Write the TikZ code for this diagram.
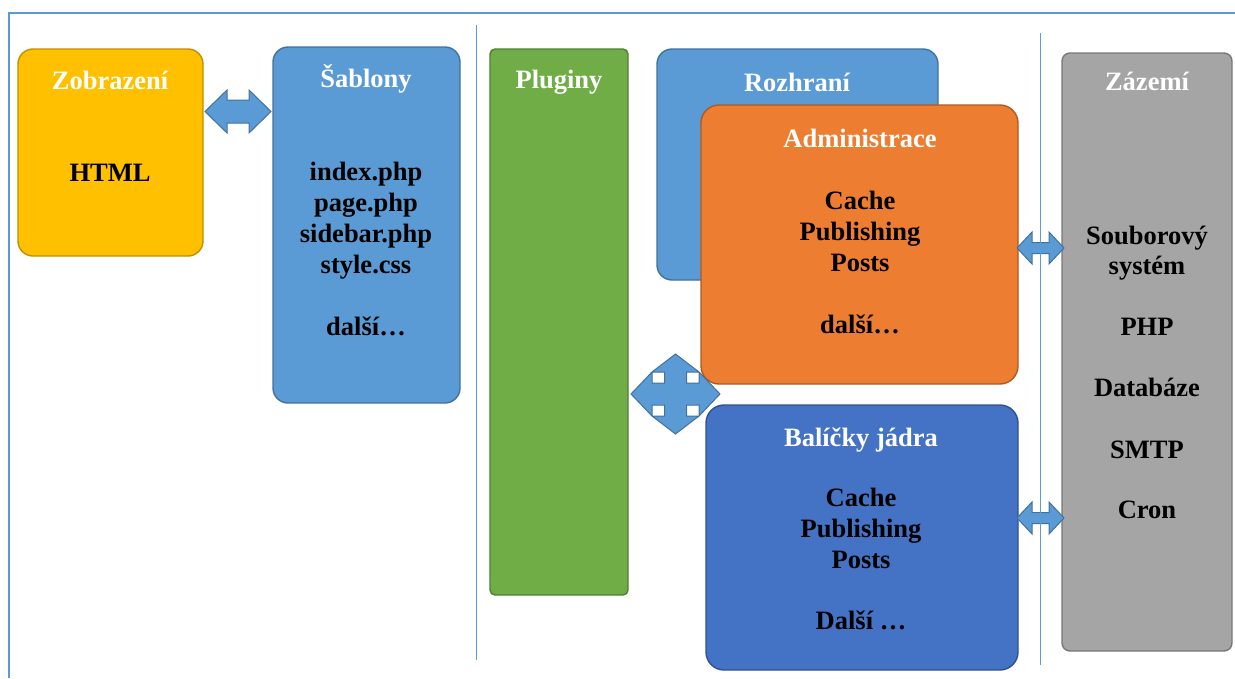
\documentclass[tikz,border=0pt]{standalone}
\usepackage{fontspec}
\setmainfont{Liberation Serif}
\definecolor{cYel}{HTML}{FFC000}\definecolor{cYelD}{HTML}{BF9000}
\definecolor{cBlu}{HTML}{5B9BD5}\definecolor{cBluD}{HTML}{41719C}
\definecolor{cGrn}{HTML}{70AD47}\definecolor{cGrnD}{HTML}{507E32}
\definecolor{cOra}{HTML}{ED7D31}\definecolor{cOraD}{HTML}{AE5A21}
\definecolor{cDbl}{HTML}{4472C4}\definecolor{cDblD}{HTML}{2F528F}
\definecolor{cGry}{HTML}{A5A5A5}\definecolor{cGryD}{HTML}{787878}
\begin{document}
\begin{tikzpicture}[x=1pt,y=-1pt,
  box/.style={draw, line width=1.4pt, rounded corners=15pt, inner sep=0pt, outer sep=0pt},
  txt/.style={font=\fontsize{26.5}{31}\selectfont\bfseries, inner sep=0pt, anchor=base, text=black},
  ttl/.style={txt, text=white},
  blockarrow/.style={draw=cBluD, fill=cBlu, line width=1pt, line join=miter},
  sep/.style={draw=cBlu, line width=0.8pt}]
\useasboundingbox (0,0) rectangle (1235,678);
% frame
\draw[sep, line width=1.3pt] (9,678) -- (9,13) -- (1235,13);
% boxes
\node[box, fill=cYel, draw=cYelD, minimum width=185pt, minimum height=207pt] (zob) at (110.5,152.5) {};
\node[box, fill=cBlu, draw=cBluD, minimum width=187pt, minimum height=356pt] (sab) at (366.5,225) {};
\node[box, fill=cGrn, draw=cGrnD, rounded corners=5pt, minimum width=138pt, minimum height=546pt] (plg) at (559,322) {};
\node[box, fill=cBlu, draw=cBluD, minimum width=281pt, minimum height=231pt] (roz) at (797.5,164.5) {};
\node[box, fill=cOra, draw=cOraD, rounded corners=18pt, minimum width=317pt, minimum height=279pt] (adm) at (859.5,244.5) {};
\node[box, fill=cDbl, draw=cDblD, rounded corners=18pt, minimum width=312pt, minimum height=265pt] (bal) at (862,537.5) {};
\node[box, fill=cGry, draw=cGryD, rounded corners=8pt, minimum width=170pt, minimum height=598pt] (zaz) at (1147,352) {};
% block arrows
\coordinate (a1) at (238,111.5);
\coordinate (a2) at (1040.5,248);
\coordinate (a3) at (1040.5,518);
\coordinate (a4) at (675.5,394);
\draw[blockarrow, shift={(a1)}] (-33,0)--(-11,-21.5)--(-11,-11.5)--(11,-11.5)--(11,-21.5)--(33,0)--(11,21.5)--(11,11.5)--(-11,11.5)--(-11,21.5)--cycle;
\foreach \c in {a2,a3}
  \draw[blockarrow, shift={(\c)}] (-23.5,0)--(-8.5,-16)--(-8.5,-5.5)--(8.5,-5.5)--(8.5,-16)--(23.5,0)--(8.5,16)--(8.5,5.5)--(-8.5,5.5)--(-8.5,16)--cycle;
\draw[blockarrow, shift={(a4)}] (-44.5,0) -- (-23.5,-22) -- (-23.5,-11) -- (-11,-11) -- (-11,-22) -- (-23.5,-22) -- (0,-40) -- (23.5,-22) -- (11,-22) -- (11,-11) -- (23.5,-11) -- (23.5,-22) -- (44.5,0) -- (23.5,22) -- (23.5,11) -- (11,11) -- (11,22) -- (23.5,22) -- (0,40) -- (-23.5,22) -- (-11,22) -- (-11,11) -- (-23.5,11) -- (-23.5,22) -- cycle;
% separators
\draw[sep] (476,25) -- (476,660);
\draw[sep] (1040,33) -- (1040,665);
% texts
\node[ttl] (zobT) at (110,89) {Zobrazení};
\node[txt] (zobC) at (110,181) {HTML};
\node[ttl] (sabT) at (366,87) {Šablony};
\foreach \y/\t [count=\i] in {180/index.php,211/page.php,242/sidebar.php,273/style.css,335/další…}
  \node[txt] (sab\i) at (366,\y) {\t};
\node[ttl] (plgT) at (559,88) {Pluginy};
\node[ttl] (rozT) at (797,91) {Rozhraní};
\node[ttl] (admT) at (860,147) {Administrace};
\foreach \y/\t [count=\i] in {209/Cache,240/Publishing,271/Posts,333/další…}
  \node[txt] (adm\i) at (860,\y) {\t};
\node[ttl] (balT) at (861,446) {Balíčky jádra};
\foreach \y/\t [count=\i] in {506/Cache,537/Publishing,568/Posts,629/Další …}
  \node[txt] (bal\i) at (861,\y) {\t};
\node[ttl] (zazT) at (1147,90) {Zázemí};
\foreach \y/\t [count=\i] in {244/Souborový,274/systém,335/PHP,396/Databáze,458/SMTP,518/Cron}
  \node[txt] (zaz\i) at (1147,\y) {\t};
\end{tikzpicture}
\end{document}
